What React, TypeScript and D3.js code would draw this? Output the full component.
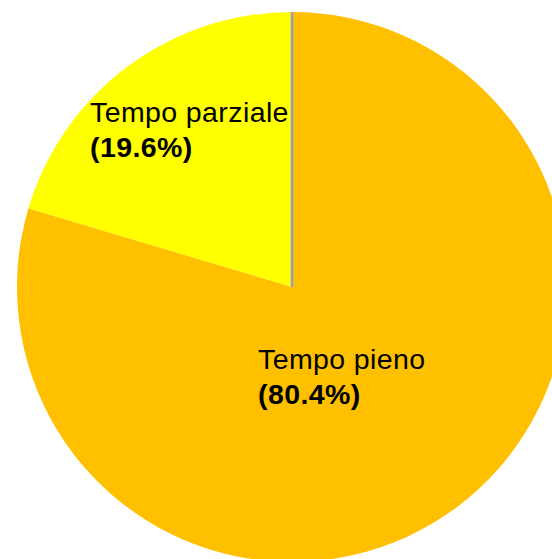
import React from "react";
import * as d3 from "d3";

const categories = ["Tempo parziale", "Tempo pieno"];
// slice sizes as drawn in the picture (angle of each wedge, in %)
const sliceShares = [20.4, 79.6];
const percentLabels = ["(19.6%)", "(80.4%)"];
const sliceColors = ["#FFFF00", "#FFC000"];

const W = 552;
const H = 559;
const cx = 292;
const cy = 287;
const R = 275;

export default function App() {
  const total = d3.sum(sliceShares);
  const start = -(2 * Math.PI) * (sliceShares[0] / total);
  const pie = d3
    .pie<number>()
    .sort(null)
    .startAngle(start)
    .endAngle(start + 2 * Math.PI);
  const arcs = pie(sliceShares);
  const arc = d3.arc<d3.PieArcDatum<number>>().innerRadius(0).outerRadius(R);
  const labelPos = [
    { x: 90, y: 122 },
    { x: 258, y: 369 },
  ];
  return (
    <svg
      width={W}
      height={H}
      style={{ position: "absolute", left: 0, top: 0, display: "block" }}
    >
      <rect width={W} height={H} fill="#ffffff" />
      <g transform={`translate(${cx},${cy})`}>
        {arcs.map((a, i) => (
          <path key={i} d={arc(a) || ""} fill={sliceColors[i]} />
        ))}
        <line x1={0} y1={0} x2={0} y2={-R} stroke="#9A9AC8" strokeWidth={2.5} />
      </g>
      {categories.map((c, i) => (
        <text
          key={c}
          x={labelPos[i].x}
          y={labelPos[i].y}
          fontFamily="Liberation Sans, Arial, sans-serif"
          fontSize={28.5}
          letterSpacing={0.4}
          fill="#000"
        >
          <tspan x={labelPos[i].x}>{c}</tspan>
          <tspan x={labelPos[i].x} dy={35} fontWeight="bold">
            {percentLabels[i]}
          </tspan>
        </text>
      ))}
    </svg>
  );
}
